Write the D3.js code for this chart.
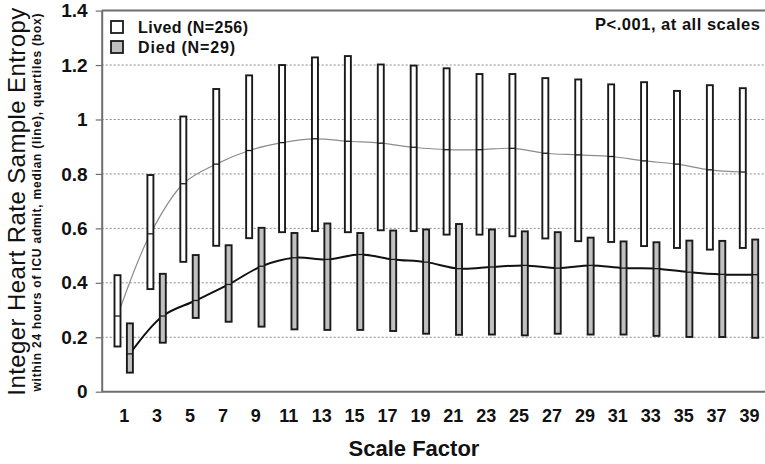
<!DOCTYPE html>
<html>
<head>
<meta charset="utf-8">
<script src="https://cdn.jsdelivr.net/npm/d3@7"></script>
<style>
  body { margin: 0; background: #fff; }
  svg { display: block; font-family: Arial, "Liberation Sans", sans-serif; }
</style>
</head>
<body>
<div id="plot"></div>
<script>
// scale factors on the x axis (odd numbers 1..39)
const scaleFactors = [1, 3, 5, 7, 9, 11, 13, 15, 17, 19, 21, 23, 25, 27, 29, 31, 33, 35, 37, 39];

// Lived (N=256): quartiles and median
const livedQ3 = [0.428, 0.796, 1.011, 1.112, 1.162, 1.200, 1.228, 1.233, 1.202, 1.198, 1.188, 1.167, 1.167, 1.152, 1.147, 1.129, 1.137, 1.105, 1.126, 1.115];
const livedMedian = [0.278, 0.580, 0.764, 0.836, 0.886, 0.915, 0.929, 0.920, 0.913, 0.898, 0.889, 0.889, 0.894, 0.876, 0.870, 0.864, 0.848, 0.836, 0.815, 0.807];
const livedQ1 = [0.166, 0.377, 0.477, 0.536, 0.564, 0.586, 0.590, 0.586, 0.593, 0.590, 0.577, 0.577, 0.571, 0.563, 0.553, 0.550, 0.535, 0.528, 0.522, 0.528];

// Died (N=29): quartiles and median
const diedQ3 = [0.251, 0.433, 0.502, 0.538, 0.602, 0.583, 0.618, 0.583, 0.592, 0.596, 0.616, 0.596, 0.589, 0.586, 0.566, 0.552, 0.549, 0.555, 0.554, 0.559];
const diedMedian = [0.139, 0.278, 0.335, 0.394, 0.461, 0.492, 0.486, 0.504, 0.486, 0.476, 0.452, 0.458, 0.464, 0.454, 0.464, 0.454, 0.452, 0.439, 0.431, 0.430];
const diedQ1 = [0.070, 0.180, 0.271, 0.257, 0.239, 0.229, 0.227, 0.227, 0.223, 0.213, 0.209, 0.210, 0.207, 0.213, 0.210, 0.210, 0.205, 0.201, 0.201, 0.198];

const yTicks = [0, 0.2, 0.4, 0.6, 0.8, 1, 1.2, 1.4];
const legendLabels = ["Lived (N=256)", "Died (N=29)"];

const width = 765;
const height = 464;
const plotLeft = 101.7, plotTop = 10.6, plotBottom = 391.7;
const boxW = 6;

const svg = d3.select("div#plot")
    .append("svg")
    .attr("width", width)
    .attr("height", height);

const x = d3.scalePoint()
    .domain(scaleFactors)
    .range([123.7, 749]);

const y = d3.scaleLinear()
    .domain([0, 1.4])
    .range([plotBottom, plotTop]);

// dotted grid lines
svg.append("g")
    .selectAll("line")
    .data(yTicks.filter(d => d > 0 && d < 1.4))
    .enter().append("line")
    .attr("x1", plotLeft)
    .attr("x2", width)
    .attr("y1", d => y(d))
    .attr("y2", d => y(d))
    .attr("stroke", "#8a8a8a")
    .attr("stroke-width", 1)
    .attr("stroke-dasharray", "2,2");

// top frame line
svg.append("line")
    .attr("x1", plotLeft).attr("x2", width)
    .attr("y1", y(1.4)).attr("y2", y(1.4))
    .attr("stroke", "#6e6e6e")
    .attr("stroke-width", 2);

// build rows for each group
const lived = scaleFactors.map((sf, i) => ({sf: sf, q1: livedQ1[i], med: livedMedian[i], q3: livedQ3[i]}));
const died = scaleFactors.map((sf, i) => ({sf: sf, q1: diedQ1[i], med: diedMedian[i], q3: diedQ3[i]}));

const groups = [
    {rows: lived, dx: -6.2, fill: "#ffffff", line: "#8c8c8c", lineW: 1.2},
    {rows: died, dx: 6.2, fill: "#c0c0c0", line: "#111111", lineW: 2}
];

// median lines (drawn under boxes)
groups.forEach(g => {
    const line = d3.line()
        .x(d => x(d.sf) + g.dx)
        .y(d => y(d.med))
        .curve(d3.curveCatmullRom.alpha(0.5));
    svg.append("path")
        .datum(g.rows)
        .attr("d", line)
        .attr("fill", "none")
        .attr("stroke", g.line)
        .attr("stroke-width", g.lineW);
});

// quartile boxes with median tick
groups.forEach(g => {
    const box = svg.append("g")
        .selectAll("g")
        .data(g.rows)
        .enter().append("g");
    box.append("rect")
        .attr("x", d => x(d.sf) + g.dx - boxW / 2)
        .attr("y", d => y(d.q3))
        .attr("width", boxW)
        .attr("height", d => y(d.q1) - y(d.q3))
        .attr("fill", g.fill)
        .attr("stroke", "#1a1a1a")
        .attr("stroke-width", 1.9);
    box.append("line")
        .attr("x1", d => x(d.sf) + g.dx - boxW / 2)
        .attr("x2", d => x(d.sf) + g.dx + boxW / 2)
        .attr("y1", d => y(d.med))
        .attr("y2", d => y(d.med))
        .attr("stroke", "#1a1a1a")
        .attr("stroke-width", 1.3);
});

// y axis
const yAxis = svg.append("g")
    .attr("transform", `translate(${plotLeft},0)`)
    .call(d3.axisLeft(y)
        .tickValues(yTicks)
        .tickSize(6)
        .tickSizeOuter(0)
        .tickPadding(8)
        .tickFormat(d => String(Math.round(d * 10) / 10)));
yAxis.select(".domain").attr("stroke", "#6e6e6e").attr("stroke-width", 2);
yAxis.selectAll(".tick line").attr("stroke", "#6e6e6e").attr("stroke-width", 1.2);
yAxis.selectAll(".tick text")
    .attr("font-size", 19)
    .attr("font-weight", "bold")
    .attr("fill", "#111");

// x axis
const xAxis = svg.append("g")
    .attr("transform", `translate(0,${plotBottom})`)
    .call(d3.axisBottom(x).tickSize(0).tickPadding(18));
xAxis.select(".domain").remove();
xAxis.append("line")
    .attr("x1", plotLeft).attr("x2", width)
    .attr("stroke", "#6e6e6e")
    .attr("stroke-width", 2);
xAxis.selectAll(".tick text")
    .attr("font-size", 18)
    .attr("font-weight", "bold")
    .attr("fill", "#111");

// axis titles
svg.append("text")
    .attr("x", 414)
    .attr("y", 456)
    .attr("text-anchor", "middle")
    .attr("font-size", 22)
    .attr("font-weight", "bold")
    .attr("fill", "#111")
    .text("Scale Factor");

svg.append("text")
    .attr("transform", `translate(24.5,201.7) rotate(-90)`)
    .attr("text-anchor", "middle")
    .attr("font-size", 24)
    .attr("fill", "#111")
    .attr("textLength", 388)
    .attr("lengthAdjust", "spacing")
    .text("Integer Heart Rate Sample Entropy");

svg.append("text")
    .attr("transform", `translate(40.8,202.5) rotate(-90)`)
    .attr("text-anchor", "middle")
    .attr("font-size", 12)
    .attr("font-weight", "bold")
    .attr("fill", "#111")
    .attr("textLength", 378)
    .attr("lengthAdjust", "spacing")
    .text("within 24 hours of ICU admit, median (line), quartiles (box)");

// legend
const legendWidths = [110, 97];
const legend = svg.append("g")
    .selectAll("g")
    .data(legendLabels)
    .enter().append("g")
    .attr("transform", (d, i) => `translate(111,${21 + i * 20})`);
legend.append("rect")
    .attr("width", 12)
    .attr("height", 12)
    .attr("fill", (d, i) => groups[i].fill)
    .attr("stroke", "#1a1a1a")
    .attr("stroke-width", 1.8);
legend.append("text")
    .attr("x", 27)
    .attr("y", 11.5)
    .attr("font-size", 16)
    .attr("font-weight", "bold")
    .attr("fill", "#111")
    .attr("textLength", (d, i) => legendWidths[i])
    .attr("lengthAdjust", "spacing")
    .text(d => d);

svg.append("text")
    .attr("x", 595)
    .attr("y", 29.5)
    .attr("font-size", 16.5)
    .attr("font-weight", "bold")
    .attr("fill", "#111")
    .attr("textLength", 165)
    .attr("lengthAdjust", "spacing")
    .text("P<.001, at all scales");
</script>
</body>
</html>
